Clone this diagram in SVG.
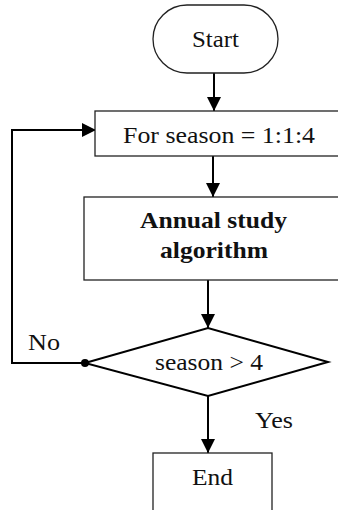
<svg xmlns="http://www.w3.org/2000/svg" width="338" height="510" viewBox="0 0 338 510">
  <defs>
    <marker id="arrow" markerWidth="14" markerHeight="14" refX="14" refY="7" orient="auto" markerUnits="userSpaceOnUse">
      <path d="M0,0 L14,7 L0,14 Z" fill="#000"/>
    </marker>
    <style>
      .box { fill: #fff; stroke: #222; stroke-width: 1.3; }
      .diam { fill: #fff; stroke: #000; stroke-width: 2; }
      .conn { fill: none; stroke: #000; stroke-width: 2; }
      .lbl { font-family: "Liberation Serif", "Times New Roman", serif; font-size: 23px; fill: #111; }
      .bold { font-weight: bold; }
    </style>
  </defs>

  <g id="connectors">
    <line class="conn" x1="214" y1="73" x2="214" y2="111" marker-end="url(#arrow)"/>
    <line class="conn" x1="213" y1="156" x2="213" y2="197" marker-end="url(#arrow)"/>
    <line class="conn" x1="208" y1="280" x2="208" y2="328" marker-end="url(#arrow)"/>
    <line class="conn" x1="208" y1="396" x2="208" y2="453" marker-end="url(#arrow)"/>
    <polyline class="conn" points="85,363 12,363 12,130 96,130" marker-end="url(#arrow)"/>
    <circle cx="85" cy="363" r="4" fill="#000"/>
    <text class="lbl" x="28" y="350" textLength="32" lengthAdjust="spacingAndGlyphs">No</text>
    <text class="lbl" x="255" y="428" textLength="38" lengthAdjust="spacingAndGlyphs">Yes</text>
  </g>

  <g id="start">
    <rect class="box" x="153" y="5" width="125" height="68" rx="34" ry="34"/>
    <text class="lbl" x="192" y="47" textLength="47" lengthAdjust="spacingAndGlyphs">Start</text>
  </g>

  <g id="loop">
    <rect class="box" x="95" y="111" width="250" height="45"/>
    <text class="lbl" x="123" y="143" textLength="192" lengthAdjust="spacingAndGlyphs">For season = 1:1:4</text>
  </g>

  <g id="annual">
    <rect class="box" x="84" y="197" width="262" height="83"/>
    <text class="lbl bold" x="140" y="228" textLength="147" lengthAdjust="spacingAndGlyphs">Annual study</text>
    <text class="lbl bold" x="160" y="258" textLength="108" lengthAdjust="spacingAndGlyphs">algorithm</text>
  </g>

  <g id="check">
    <polygon class="diam" points="85,363 208,328 328,362 208,396"/>
    <text class="lbl" x="155" y="370" textLength="108" lengthAdjust="spacingAndGlyphs">season &gt; 4</text>
  </g>

  <g id="end">
    <rect class="box" x="153" y="453" width="119" height="70"/>
    <text class="lbl" x="192" y="485" textLength="41" lengthAdjust="spacingAndGlyphs">End</text>
  </g>
</svg>
